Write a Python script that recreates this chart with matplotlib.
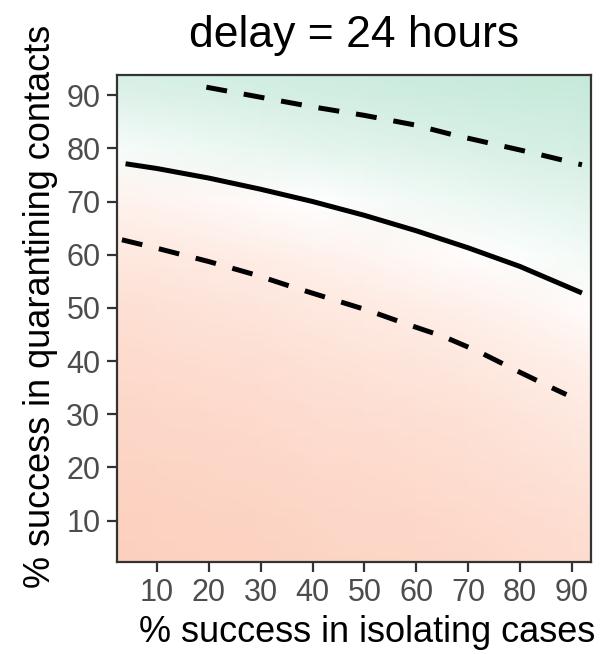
import numpy as np
import matplotlib.pyplot as plt
from matplotlib.colors import LinearSegmentedColormap, TwoSlopeNorm

# --- DATA ---
# grid nodes of the shaded surface (% success isolating / quarantining)
grid_x = [2.25, 10, 20, 30, 40, 50, 60, 70, 80, 90, 93.75]
grid_y = [2.25, 10, 20, 30, 40, 50, 60, 70, 80, 90, 93.75]
# shade level at each node (rows = grid_y, columns = grid_x); <0 orange, >0 green
shade = [
    [-1.00, -0.98, -0.96, -0.94, -0.91, -0.89, -0.87, -0.84, -0.79, -0.75, -0.74],
    [-0.97, -0.95, -0.93, -0.90, -0.87, -0.85, -0.82, -0.79, -0.74, -0.69, -0.68],
    [-0.91, -0.89, -0.87, -0.84, -0.80, -0.78, -0.75, -0.71, -0.66, -0.60, -0.58],
    [-0.85, -0.83, -0.80, -0.76, -0.72, -0.69, -0.66, -0.62, -0.55, -0.49, -0.46],
    [-0.77, -0.74, -0.71, -0.67, -0.62, -0.58, -0.54, -0.49, -0.41, -0.33, -0.30],
    [-0.66, -0.63, -0.59, -0.54, -0.49, -0.44, -0.38, -0.31, -0.22, -0.11, -0.07],
    [-0.50, -0.47, -0.42, -0.36, -0.29, -0.22, -0.14, -0.05, 0.04, 0.11, 0.14],
    [-0.27, -0.22, -0.16, -0.09, 0.00, 0.07, 0.13, 0.18, 0.24, 0.29, 0.31],
    [0.09, 0.13, 0.18, 0.23, 0.28, 0.31, 0.35, 0.39, 0.43, 0.46, 0.47],
    [0.36, 0.38, 0.41, 0.45, 0.47, 0.50, 0.52, 0.55, 0.57, 0.58, 0.59],
    [0.44, 0.45, 0.48, 0.51, 0.53, 0.55, 0.57, 0.59, 0.61, 0.62, 0.62],
]

# contour lines
mid_x = [3.9, 10, 20, 30, 40, 50, 60, 70, 80, 92]
mid_y = [77.1, 76.2, 74.4, 72.3, 70.0, 67.4, 64.5, 61.3, 57.8, 52.8]
upper_x = [19.5, 30, 40, 50, 59.7, 67.3, 75, 82.7, 92]
upper_y = [91.5, 89.6, 87.8, 86.2, 84.4, 82.5, 80.8, 79.1, 76.9]
lower_x = [3.2, 10, 20, 29, 35.9, 43.5, 50.8, 58, 65.3, 72, 79.8, 87, 89]
lower_y = [62.8, 61.2, 58.7, 56.2, 54.0, 51.7, 49.5, 47.0, 44.6, 41.8, 38.0, 34.6, 33.7]

ticks = [10, 20, 30, 40, 50, 60, 70, 80, 90]

# --- PLOTTING ---
plt.rcParams['font.family'] = ['Liberation Sans', 'DejaVu Sans']
fig = plt.figure(figsize=(6, 6.54), dpi=100)
ax = fig.add_axes([0.195, 0.141, 0.79, 0.744])

cmap = LinearSegmentedColormap.from_list('fill', ['#FCD0BE', '#FFFFFF', '#C6E9DA'])
norm = TwoSlopeNorm(vmin=-1.0, vcenter=0.0, vmax=0.62)
X, Y = np.meshgrid(grid_x, grid_y)
ax.pcolormesh(X, Y, np.array(shade), cmap=cmap, norm=norm, shading='gouraud')

ax.plot(mid_x, mid_y, color='black', lw=3.6, solid_capstyle='butt')
ax.plot(upper_x, upper_y, color='black', lw=3.6, linestyle=(0, (4.2, 3.4)), dash_capstyle='butt')
ax.plot(lower_x, lower_y, color='black', lw=3.6, linestyle=(0, (4.2, 3.4)), dash_capstyle='butt')

ax.set_xlim(2.25, 93.75)
ax.set_ylim(2.25, 93.75)
ax.set_xticks(ticks)
ax.set_yticks(ticks)
ax.tick_params(length=7, width=1.6, color='#333333', labelsize=22,
               labelcolor='#4D4D4D', pad=5)
for s in ax.spines.values():
    s.set_linewidth(1.6)
    s.set_color('#333333')

ax.set_xlabel('% success in isolating cases', fontsize=26, va='center')
ax.xaxis.set_label_coords(0.527, -0.146)
ax.set_ylabel('% success in quarantining contacts', fontsize=26, va='center')
ax.yaxis.set_label_coords(-0.162, 0.524)
fig.text(0.59, 0.946, 'delay = 24 hours', fontsize=32, ha='center', va='center')

plt.savefig('out.png', dpi=100)
